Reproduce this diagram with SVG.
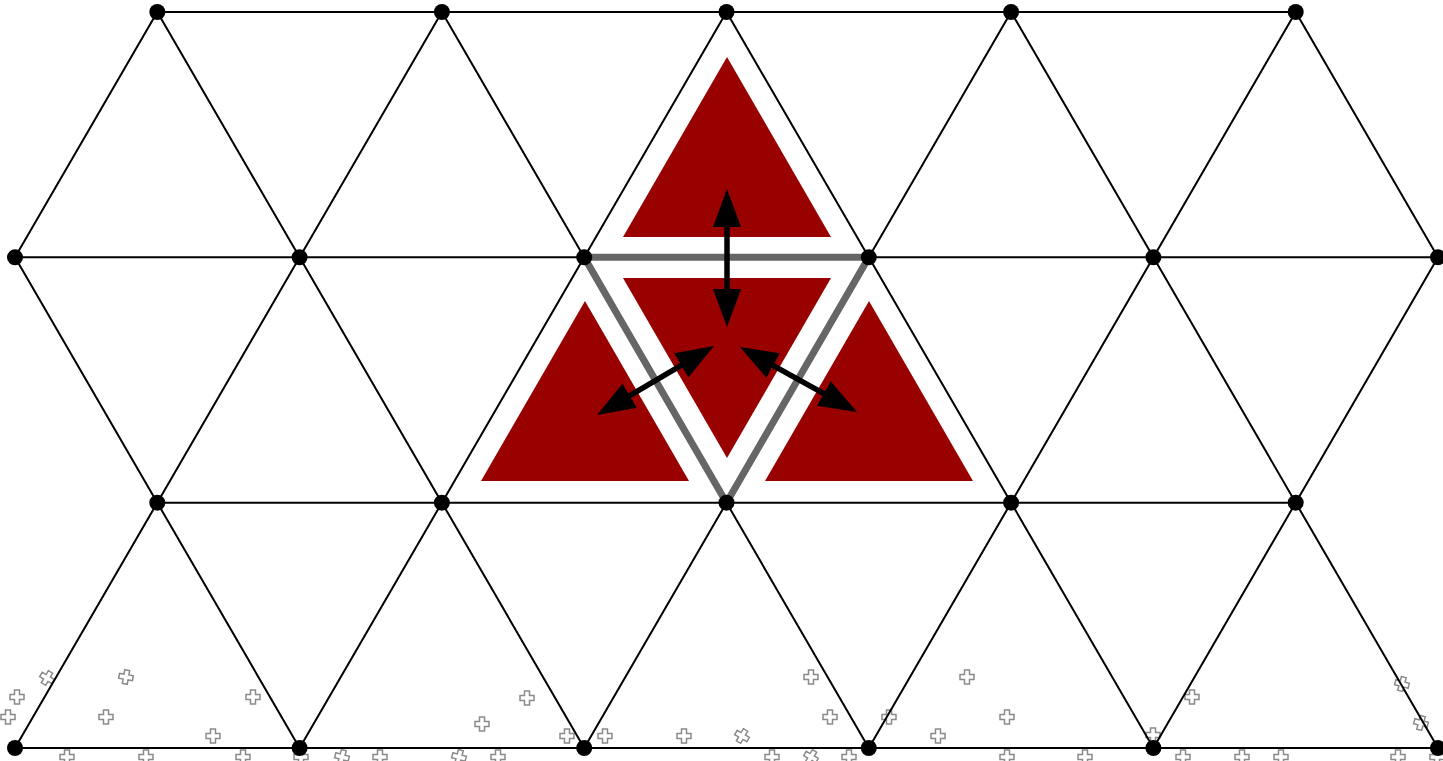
<svg xmlns="http://www.w3.org/2000/svg" xmlns:xlink="http://www.w3.org/1999/xlink" width="1443" height="761" viewBox="0 0 1443 761">
  <style>
    .grid line { stroke: #000; stroke-width: 2; stroke-linecap: round; }
    .hl { fill: none; stroke: #666666; stroke-width: 7; stroke-linejoin: miter; }
    .tri { fill: #990000; }
    .arrow { stroke: #000; stroke-width: 5.5; fill: none; marker-start: url(#head); marker-end: url(#head); }
    .dot { fill: #000; }
    .cross { fill: #fff; stroke: #8a8a8a; stroke-width: 1.5; }
  </style>
  <defs>
    <marker id="head" viewBox="0 0 38 28" refX="28" refY="14" markerWidth="38" markerHeight="28" markerUnits="userSpaceOnUse" orient="auto-start-reverse">
      <path d="M0,0 L38,14 L0,28 Z" fill="#000"/>
    </marker>
    <path id="plus" class="cross" d="M-2.5,-7 H2.5 V-2.5 H7 V2.5 H2.5 V7 H-2.5 V2.5 H-7 V-2.5 H-2.5 Z"/>
  </defs>
  <rect width="1443" height="761" fill="#fff"/>

  <g id="markers">
    <use xlink:href="#plus" transform="translate(17,697)"/>
    <use xlink:href="#plus" transform="translate(47,678) rotate(30)"/>
    <use xlink:href="#plus" transform="translate(8,717)"/>
    <use xlink:href="#plus" transform="translate(126,677) rotate(10)"/>
    <use xlink:href="#plus" transform="translate(106,717)"/>
    <use xlink:href="#plus" transform="translate(253,697)"/>
    <use xlink:href="#plus" transform="translate(213,736)"/>
    <use xlink:href="#plus" transform="translate(67,757)"/>
    <use xlink:href="#plus" transform="translate(146,757)"/>
    <use xlink:href="#plus" transform="translate(243,757)"/>
    <use xlink:href="#plus" transform="translate(301,757)"/>
    <use xlink:href="#plus" transform="translate(342,757) rotate(15)"/>
    <use xlink:href="#plus" transform="translate(380,757)"/>
    <use xlink:href="#plus" transform="translate(459,757) rotate(15)"/>
    <use xlink:href="#plus" transform="translate(498,757)"/>
    <use xlink:href="#plus" transform="translate(482,724)"/>
    <use xlink:href="#plus" transform="translate(527,698)"/>
    <use xlink:href="#plus" transform="translate(567,736)"/>
    <use xlink:href="#plus" transform="translate(605,736)"/>
    <use xlink:href="#plus" transform="translate(684,736)"/>
    <use xlink:href="#plus" transform="translate(742,736) rotate(30)"/>
    <use xlink:href="#plus" transform="translate(772,757)"/>
    <use xlink:href="#plus" transform="translate(811,757) rotate(30)"/>
    <use xlink:href="#plus" transform="translate(849,757)"/>
    <use xlink:href="#plus" transform="translate(811,677)"/>
    <use xlink:href="#plus" transform="translate(830,717)"/>
    <use xlink:href="#plus" transform="translate(967,677)"/>
    <use xlink:href="#plus" transform="translate(889,717)"/>
    <use xlink:href="#plus" transform="translate(1007,717)"/>
    <use xlink:href="#plus" transform="translate(938,736)"/>
    <use xlink:href="#plus" transform="translate(1007,757)"/>
    <use xlink:href="#plus" transform="translate(1085,757)"/>
    <use xlink:href="#plus" transform="translate(1153,735)"/>
    <use xlink:href="#plus" transform="translate(1192,697)"/>
    <use xlink:href="#plus" transform="translate(1402,684) rotate(15)"/>
    <use xlink:href="#plus" transform="translate(1421,723) rotate(15)"/>
    <use xlink:href="#plus" transform="translate(1183,757)"/>
    <use xlink:href="#plus" transform="translate(1242,757)"/>
    <use xlink:href="#plus" transform="translate(1281,757)"/>
    <use xlink:href="#plus" transform="translate(1398,757)"/>
    <use xlink:href="#plus" transform="translate(1437,757)"/>
  </g>

  <g id="connectors">
    <g class="grid">
      <line x1="157.3" y1="12" x2="1295.7" y2="12"/>
      <line x1="15" y1="257.3" x2="584.2" y2="257.3"/>
      <line x1="868.8" y1="257.3" x2="1438" y2="257.3"/>
      <line x1="157.3" y1="502.7" x2="1295.7" y2="502.7"/>
      <line x1="15" y1="748" x2="1438" y2="748"/>

      <line x1="157.3" y1="12" x2="15" y2="257.3"/>
      <line x1="157.3" y1="12" x2="299.6" y2="257.3"/>
      <line x1="441.9" y1="12" x2="299.6" y2="257.3"/>
      <line x1="441.9" y1="12" x2="584.2" y2="257.3"/>
      <line x1="726.5" y1="12" x2="584.2" y2="257.3"/>
      <line x1="726.5" y1="12" x2="868.8" y2="257.3"/>
      <line x1="1011.1" y1="12" x2="868.8" y2="257.3"/>
      <line x1="1011.1" y1="12" x2="1153.4" y2="257.3"/>
      <line x1="1295.7" y1="12" x2="1153.4" y2="257.3"/>
      <line x1="1295.7" y1="12" x2="1438" y2="257.3"/>

      <line x1="157.3" y1="502.7" x2="15" y2="257.3"/>
      <line x1="157.3" y1="502.7" x2="299.6" y2="257.3"/>
      <line x1="441.9" y1="502.7" x2="299.6" y2="257.3"/>
      <line x1="441.9" y1="502.7" x2="584.2" y2="257.3"/>
      <line x1="1011.1" y1="502.7" x2="868.8" y2="257.3"/>
      <line x1="1011.1" y1="502.7" x2="1153.4" y2="257.3"/>
      <line x1="1295.7" y1="502.7" x2="1153.4" y2="257.3"/>
      <line x1="1295.7" y1="502.7" x2="1438" y2="257.3"/>

      <line x1="157.3" y1="502.7" x2="15" y2="748"/>
      <line x1="157.3" y1="502.7" x2="299.6" y2="748"/>
      <line x1="441.9" y1="502.7" x2="299.6" y2="748"/>
      <line x1="441.9" y1="502.7" x2="584.2" y2="748"/>
      <line x1="726.5" y1="502.7" x2="584.2" y2="748"/>
      <line x1="726.5" y1="502.7" x2="868.8" y2="748"/>
      <line x1="1011.1" y1="502.7" x2="868.8" y2="748"/>
      <line x1="1011.1" y1="502.7" x2="1153.4" y2="748"/>
      <line x1="1295.7" y1="502.7" x2="1153.4" y2="748"/>
      <line x1="1295.7" y1="502.7" x2="1438" y2="748"/>
    </g>
    <polygon id="highlight" class="hl" points="584.2,257.3 868.8,257.3 726.5,502.7"/>
  </g>

  <g id="tri-top"><polygon class="tri" points="727,57 623,237 831,237"/></g>
  <g id="tri-center"><polygon class="tri" points="623,278 831,278 727,458"/></g>
  <g id="tri-left"><polygon class="tri" points="585,301 481,481 689,481"/></g>
  <g id="tri-right"><polygon class="tri" points="869,301 765,481 973,481"/></g>

  <g id="arrows">
    <line class="arrow" x1="727" y1="199" x2="727" y2="317"/>
    <line class="arrow" x1="705.4" y1="351.1" x2="605.6" y2="409.9"/>
    <line class="arrow" x1="748.7" y1="351.9" x2="848.3" y2="407.1"/>
  </g>

  <g id="vertices">
    <g id="v-a0"><circle class="dot" cx="157.3" cy="12" r="8"/></g>
    <g id="v-a1"><circle class="dot" cx="441.9" cy="12" r="8"/></g>
    <g id="v-a2"><circle class="dot" cx="726.5" cy="12" r="8"/></g>
    <g id="v-a3"><circle class="dot" cx="1011.1" cy="12" r="8"/></g>
    <g id="v-a4"><circle class="dot" cx="1295.7" cy="12" r="8"/></g>
    <g id="v-b0"><circle class="dot" cx="15" cy="257.3" r="8"/></g>
    <g id="v-b1"><circle class="dot" cx="299.6" cy="257.3" r="8"/></g>
    <g id="v-b2"><circle class="dot" cx="584.2" cy="257.3" r="8"/></g>
    <g id="v-b3"><circle class="dot" cx="868.8" cy="257.3" r="8"/></g>
    <g id="v-b4"><circle class="dot" cx="1153.4" cy="257.3" r="8"/></g>
    <g id="v-b5"><circle class="dot" cx="1438" cy="257.3" r="8"/></g>
    <g id="v-c0"><circle class="dot" cx="157.3" cy="502.7" r="8"/></g>
    <g id="v-c1"><circle class="dot" cx="441.9" cy="502.7" r="8"/></g>
    <g id="v-c2"><circle class="dot" cx="726.5" cy="502.7" r="8"/></g>
    <g id="v-c3"><circle class="dot" cx="1011.1" cy="502.7" r="8"/></g>
    <g id="v-c4"><circle class="dot" cx="1295.7" cy="502.7" r="8"/></g>
    <g id="v-d0"><circle class="dot" cx="15" cy="748" r="8"/></g>
    <g id="v-d1"><circle class="dot" cx="299.6" cy="748" r="8"/></g>
    <g id="v-d2"><circle class="dot" cx="584.2" cy="748" r="8"/></g>
    <g id="v-d3"><circle class="dot" cx="868.8" cy="748" r="8"/></g>
    <g id="v-d4"><circle class="dot" cx="1153.4" cy="748" r="8"/></g>
    <g id="v-d5"><circle class="dot" cx="1438" cy="748" r="8"/></g>
  </g>
</svg>
